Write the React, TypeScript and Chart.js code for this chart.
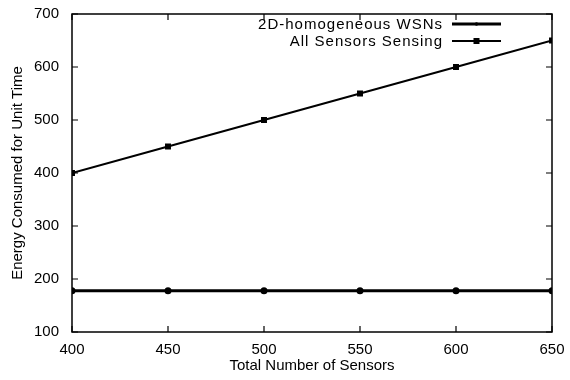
import React, { useEffect, useRef } from "react";
import { Chart, registerables } from "chart.js";

Chart.register(...registerables);

const sensorCounts = [400, 450, 500, 550, 600, 650];
const homogeneousEnergy = [178, 178, 178, 178, 178, 178];
const allSensingEnergy = [400, 450, 500, 550, 600, 650];
const seriesLabels = ["2D-homogeneous WSNs", "All Sensors Sensing"];
const xTickValues = [400, 450, 500, 550, 600, 650];
const yTickValues = [100, 200, 300, 400, 500, 600, 700];
const xTitle = "Total Number of Sensors";
const yTitle = "Energy Consumed for Unit Time";

const FONT = "'Liberation Sans', Arial, Helvetica, sans-serif";

const framePlugin = {
  id: "gnuFrame",
  afterDatasetsDraw(chart: any) {
    const { ctx, chartArea } = chart;
    const { left, right, top, bottom } = chartArea;
    const xs = chart.scales.x;
    const ys = chart.scales.y;
    ctx.save();
    ctx.strokeStyle = "#000";
    ctx.lineWidth = 1.5;
    ctx.strokeRect(left, top, right - left, bottom - top);
    ctx.lineWidth = 1.2;
    const tl = 6;
    ctx.beginPath();
    xTickValues.forEach((v) => {
      const px = xs.getPixelForValue(v);
      ctx.moveTo(px, bottom);
      ctx.lineTo(px, bottom - tl);
      ctx.moveTo(px, top);
      ctx.lineTo(px, top + tl);
    });
    yTickValues.forEach((v) => {
      const py = ys.getPixelForValue(v);
      ctx.moveTo(left, py);
      ctx.lineTo(left + tl, py);
      ctx.moveTo(right, py);
      ctx.lineTo(right - tl, py);
    });
    ctx.stroke();

    // gnuplot-style legend: text right aligned, sample to the right
    const textRight = right - 109;
    const sampleL = right - 100;
    const sampleR = right - 51;
    const rowY = [top + 10, top + 27];
    ctx.font = `15px ${FONT}`;
    (ctx as any).letterSpacing = "1px";
    ctx.fillStyle = "#000";
    ctx.textAlign = "right";
    ctx.textBaseline = "middle";
    chart.data.datasets.forEach((ds: any, i: number) => {
      const y = rowY[i];
      ctx.fillText(ds.label, textRight, y + 1);
      ctx.lineWidth = ds.borderWidth;
      ctx.beginPath();
      ctx.moveTo(sampleL, y);
      ctx.lineTo(sampleR, y);
      ctx.stroke();
      const cx = (sampleL + sampleR) / 2;
      if (ds.pointStyle === "rect") {
        ctx.fillRect(cx - 3, y - 3, 6, 6);
      } else {
        ctx.beginPath();
        ctx.arc(cx, y, 1.8, 0, Math.PI * 2);
        ctx.fill();
      }
    });
    ctx.restore();
  },
};

export default function App() {
  const ref = useRef<HTMLCanvasElement | null>(null);
  useEffect(() => {
    document.body.style.margin = "0";
    const canvas = ref.current;
    if (!canvas) return;
    const chart = new Chart(canvas, {
      type: "line",
      data: {
        datasets: [
          {
            label: seriesLabels[0],
            data: sensorCounts.map((x, i) => ({ x, y: homogeneousEnergy[i] })),
            borderColor: "#000",
            backgroundColor: "#000",
            borderWidth: 3,
            pointStyle: "circle",
            pointRadius: 2,
            fill: false,
          },
          {
            label: seriesLabels[1],
            data: sensorCounts.map((x, i) => ({ x, y: allSensingEnergy[i] })),
            borderColor: "#000",
            backgroundColor: "#000",
            borderWidth: 2,
            pointStyle: "rect",
            pointRadius: 2.8,
            fill: false,
          },
        ],
      },
      options: {
        responsive: false,
        animation: false,
        devicePixelRatio: 1,
        layout: { padding: { top: 14, right: 18, left: 0, bottom: 0 } },
        plugins: { legend: { display: false }, tooltip: { enabled: false } },
        scales: {
          x: {
            type: "linear",
            min: 400,
            max: 650,
            afterBuildTicks: (s: any) => {
              s.ticks = xTickValues.map((v) => ({ value: v }));
            },
            afterFit: (s: any) => {
              s.height = 48;
              s.paddingLeft = 0;
              s.paddingRight = 0;
            },
            grid: { display: false, drawTicks: false },
            border: { display: false },
            ticks: {
              color: "#000",
              padding: 9,
              font: { family: FONT, size: 15 },
              maxRotation: 0,
            },
            title: {
              display: true,
              text: xTitle,
              color: "#000",
              padding: 5,
              font: { family: FONT, size: 15 },
            },
          },
          y: {
            type: "linear",
            min: 100,
            max: 700,
            afterBuildTicks: (s: any) => {
              s.ticks = yTickValues.map((v) => ({ value: v }));
            },
            afterFit: (s: any) => {
              s.width = 72;
              s.paddingTop = 0;
              s.paddingBottom = 0;
            },
            grid: { display: false, drawTicks: false },
            border: { display: false },
            ticks: {
              color: "#000",
              padding: 13,
              font: { family: FONT, size: 15 },
            },
            title: {
              display: true,
              text: yTitle,
              color: "#000",
              padding: 9,
              font: { family: FONT, size: 15 },
            },
          },
        },
      },
      plugins: [framePlugin],
    } as any);
    return () => chart.destroy();
  }, []);
  return (
    <div style={{ width: 570, height: 380, background: "#fff" }}>
      <canvas ref={ref} width={570} height={380} />
    </div>
  );
}
